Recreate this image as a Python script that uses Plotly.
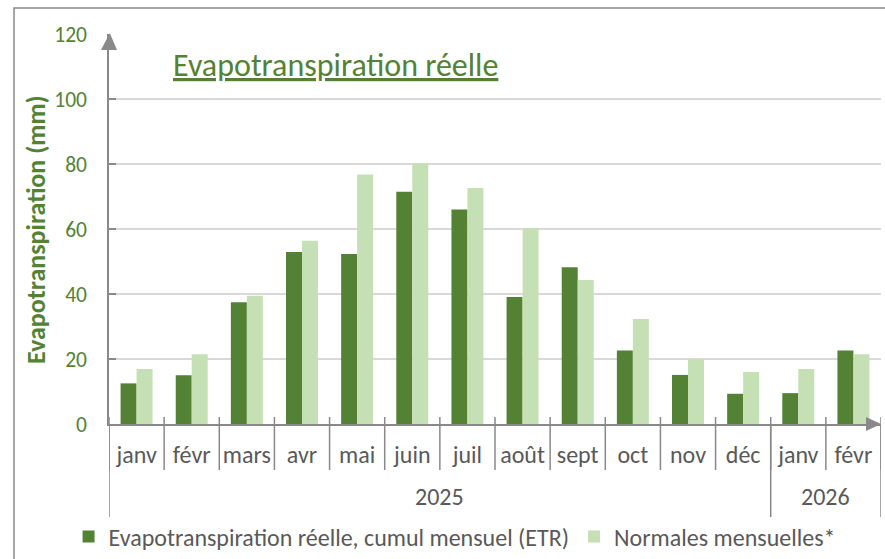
import plotly.graph_objects as go

months = ["janv", "févr", "mars", "avr", "mai", "juin", "juil", "août",
          "sept", "oct", "nov", "déc", "janv", "févr"]
years = ["2025", "2026"]
year_spans = [(0, 11), (12, 13)]  # index ranges of months per year
etr = [12.5, 15.0, 37.5, 52.9, 52.3, 71.5, 66.0, 39.1, 48.2, 22.6, 15.1, 9.3, 9.5, 22.6]
normales = [16.9, 21.5, 39.5, 56.4, 76.8, 80.2, 72.6, 60.3, 44.3, 32.3, 19.9, 16.0, 16.9, 21.5]

DARK = "#548235"
LIGHT = "#C5E0B4"
AXIS = "#898989"
GRID = "#D9D9D9"
TXT = "#595959"
FONT = "Carlito, Lato, sans-serif"

W, H = 885, 559
ML, MR, MT, MB = 109, 4, 34, 135
PW = W - ML - MR
PH = H - MT - MB

def px_x(p):  # pixel offset from plot left -> paper
    return p / PW

def px_y(p):  # pixel offset above plot bottom -> paper
    return p / PH

xs = list(range(len(months)))

fig = go.Figure()
fig.add_trace(go.Bar(x=xs, y=etr, name="Evapotranspiration réelle, cumul mensuel (ETR)",
                     marker=dict(color=DARK, line=dict(width=0))))
fig.add_trace(go.Bar(x=xs, y=normales, name="Normales mensuelles*",
                     marker=dict(color=LIGHT, line=dict(width=0))))

shapes = []
# month boundary ticks (crossing the axis)
for k in range(len(months) + 1):
    b = k - 0.5
    shapes.append(dict(type="line", xref="x", yref="paper", x0=b, x1=b,
                       y0=px_y(7), y1=-px_y(46), line=dict(color=AXIS, width=1.5)))
# year dividers
bounds = sorted({s - 0.5 for s, e in year_spans} | {e + 0.5 for s, e in year_spans})
for b in bounds:
    shapes.append(dict(type="line", xref="x", yref="paper", x0=b, x1=b,
                       y0=0, y1=-px_y(93), line=dict(color=AXIS, width=1.5)))
# arrow heads
shapes.append(dict(type="path", xref="paper", yref="paper",
                   path=f"M 1 0 L {1-px_x(15)} {px_y(7)} L {1-px_x(15)} {-px_y(7)} Z",
                   fillcolor=AXIS, line=dict(width=0)))
shapes.append(dict(type="path", xref="paper", yref="paper",
                   path=f"M 0.001 {1+px_y(1)} L {-px_x(8)} {1-px_y(16)} L {px_x(8)} {1-px_y(16)} Z",
                   fillcolor=AXIS, line=dict(width=0)))
# outer frame
shapes.append(dict(type="rect", xref="paper", yref="paper",
                   x0=-px_x(ML - 14), x1=1.2, y0=-0.6, y1=1 + px_y(MT - 8),
                   line=dict(color=AXIS, width=1.5), fillcolor="rgba(0,0,0,0)"))

annotations = []
for (s, e), yr in zip(year_spans, years):
    annotations.append(dict(x=(s + e) / 2, y=-px_y(72), xref="x", yref="paper",
                            text=yr, showarrow=False, yanchor="middle",
                            font=dict(family=FONT, size=24, color=TXT)))
annotations.append(dict(x=px_x(171 - ML), y=px_y(424 - 65), xref="paper", yref="paper",
                        text="<u>Evapotranspiration réelle</u>", showarrow=False,
                        xanchor="left", yanchor="middle",
                        font=dict(family=FONT, size=32, color=DARK)))
annotations.append(dict(x=-px_x(ML - 36), y=px_y(424 - 230), xref="paper", yref="paper",
                        text="<b>Evapotranspiration (mm)</b>", showarrow=False, textangle=-90,
                        xanchor="center", yanchor="middle",
                        font=dict(family=FONT, size=26, color=DARK)))

fig.update_layout(
    width=W, height=H,
    margin=dict(l=ML, r=MR, t=MT, b=MB, autoexpand=False),
    paper_bgcolor="white", plot_bgcolor="white",
    barmode="group", bargap=0.42, bargroupgap=0,
    showlegend=True,
    legend=dict(orientation="h", x=px_x(84 - ML) - 0.02, y=-px_y(537 - 424), xanchor="left",
                yanchor="middle", font=dict(family=FONT, size=24, color=TXT),
                bgcolor="rgba(0,0,0,0)"),
    xaxis=dict(range=[-0.5, len(months) - 0.5], tickmode="array", tickvals=xs, ticktext=months,
               ticks="", showgrid=False, zeroline=False, showline=True, linecolor=AXIS,
               linewidth=1.5, tickfont=dict(family=FONT, size=24, color=TXT),
               ticklabelstandoff=8, fixedrange=True),
    yaxis=dict(range=[0, 120], tickmode="linear", tick0=0, dtick=20, ticks="inside", ticklen=7,
               tickcolor=AXIS, tickwidth=1.5, showgrid=True, gridcolor=GRID, gridwidth=1.5,
               zeroline=False, showline=True, linecolor=AXIS, linewidth=1.5,
               tickfont=dict(family=FONT, size=21.5, color=DARK), ticklabelstandoff=16,
               fixedrange=True),
    shapes=shapes, annotations=annotations,
)

fig.write_html("out.html", config={"displayModeBar": False},
               post_script="document.body.style.margin='0px';")
